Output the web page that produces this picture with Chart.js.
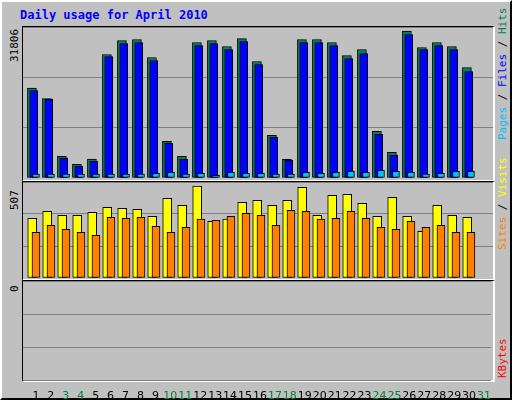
<!DOCTYPE html>
<html><head><meta charset="utf-8">
<script src="https://cdn.jsdelivr.net/npm/chart.js@4/dist/chart.umd.min.js"></script>
<style>
body{margin:0;width:512px;height:400px;overflow:hidden;background:#fff}
#frame{position:absolute;left:0;top:0;width:508px;height:396px;background:#c0c0c0;border:2px solid #000;border-left-color:#fff;border-top-color:#fff;box-sizing:content-box}
.abs{position:absolute}
.panel{position:absolute;left:20px;width:470px;border-top:1px solid #000;border-left:1px solid #000;border-right:2px solid #fff;border-bottom:2px solid #fff}
.rot{position:absolute;transform-origin:0 0;transform:rotate(-90deg);white-space:nowrap;font-family:"DejaVu Sans Mono",monospace;font-size:11px}
#title{left:18px;top:6px;font-family:"DejaVu Sans Mono",monospace;font-weight:bold;font-size:12px;color:#0000ff}
</style></head><body>
<div id="frame">
<div id="title" class="abs">Daily usage for April 2010</div>
<div class="panel" style="top:24px;height:153px"></div>
<div class="panel" style="top:179px;height:97px"></div>
<div class="panel" style="top:278px;height:99px"></div>
<canvas id="c1" class="abs" style="left:21px;top:25px"></canvas>
<canvas id="c2" class="abs" style="left:21px;top:180px"></canvas>
<canvas id="c3" class="abs" style="left:21px;top:279px"></canvas>
<div class="rot" style="left:6px;top:60px">31806</div>
<div class="rot" style="left:6px;top:208px">507</div>
<div class="rot" style="left:6px;top:290px">0</div>
<div class="rot" style="left:494px;top:138px"><span style="color:#00c0ff">Pages</span> / <span style="color:#0000ff">Files</span> / <span style="color:#00805c">Hits</span></div>
<div class="rot" style="left:494px;top:248px"><span style="color:#ff8000">Sites</span> / <span style="color:#ffff00">Visits</span></div>
<div class="rot" style="left:494px;top:376px"><span style="color:#ff0000">KBytes</span></div>
</div>
<script>
const days=[1,2,3,4,5,6,7,8,9,10,11,12,13,14,15,16,17,18,19,20,21,22,23,24,25,26,27,28,29,30];
const dayLabels=["1","2","3","4","5","6","7","8","9","10","11","12","13","14","15","16","17","18","19","20","21","22","23","24","25","26","27","28","29","30","31"];
const weekendDays=[3,4,10,11,17,18,24,25,31];
const hits=[19440,17200,4690,2960,4100,26720,29740,29960,26070,7930,4690,29310,29740,28450,30170,25210,9220,4040,29960,29960,29310,26500,27800,10090,5550,31806,28230,29310,28450,23910];
const files=[18940,17000,4250,2530,3610,26290,29100,29310,25420,7500,4040,28660,29100,27800,29530,24560,8790,3820,29310,29310,28660,25850,26940,9440,4900,31040,27800,28660,27800,23050];
const pages=[860,860,860,860,860,860,860,860,1000,1230,860,1000,580,1230,1000,1000,860,860,1230,1000,1230,1450,1230,1660,1450,1230,860,1000,1450,1450];
const visits=[329,367,346,346,362,390,384,379,340,439,401,507,312,324,417,428,401,428,500,346,456,461,412,340,445,340,257,401,346,335];
const sites=[252,290,268,252,235,335,329,335,285,252,279,324,318,340,357,346,290,373,367,324,329,367,329,279,268,312,279,290,252,252];
const kbytes=[];

const W=470;
function pts(vals,off){return vals.map((v,i)=>({x:days[i]+off,y:v}));}
function ds(vals,off,color,th,ord){return {data:pts(vals,off),backgroundColor:color,borderColor:'#000',borderWidth:1,barThickness:th,grouped:false,borderSkipped:false,order:ord};}
function scales(max,showX){
  const x={type:'linear',min:0.135,max:31.47,display:showX,offset:false,
       grid:{display:false,offset:false},border:{display:false},
       afterBuildTicks:s=>{s.ticks=dayLabels.map((l,i)=>({value:i+1}));},
       ticks:{autoSkip:false,maxRotation:0,padding:2,font:{family:'DejaVu Sans',size:11},
         callback:v=>dayLabels[v-1],
         color:c=>weekendDays.includes(c.tick.value)?'#008040':'#000'}};
  if(showX) x.afterFit=s=>{s.height=22;};
  return {
    x,
    y:{min:0,max:max,afterBuildTicks:s=>{s.ticks=[0,1,2,3].map(k=>({value:max*k/3}));},
       afterFit:s=>{s.width=0;},
       grid:{color:'#808080',drawTicks:false},border:{display:false},ticks:{display:false}}
  };
}
function mk(id,h,datasets,max,showX){
  const c=document.getElementById(id);c.width=W;c.height=h;c.style.width=W+'px';c.style.height=h+'px';
  return new Chart(c,{type:'bar',data:{datasets},options:{responsive:false,animation:false,devicePixelRatio:1,
    layout:{padding:0},plugins:{legend:{display:false},tooltip:{enabled:false}},scales:scales(max,showX)}});
}
mk('c1',151,[ds(hits,-0.27,'#00805c',9,2),ds(files,-0.15,'#0000ff',8,1),ds(pages,0,'#00c0ff',7,0)],32670,false);
mk('c2',96,[ds(visits,-0.25,'#ffff00',9,1),ds(sites,0,'#ff8000',8,0)],529,false);
mk('c3',121,[ds(kbytes,0,'#ff0000',8,0)],3,true);
</script>
</body></html>
